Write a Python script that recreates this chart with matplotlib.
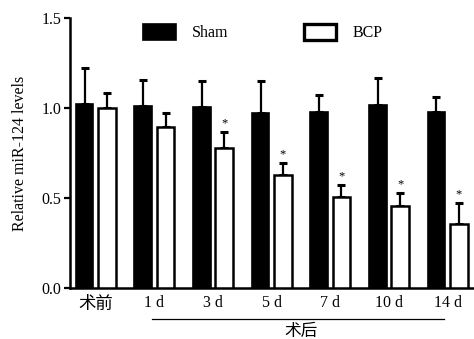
import matplotlib
matplotlib.use("Agg")
import matplotlib.pyplot as plt
import numpy as np
from matplotlib.patches import Patch

categories = ["术前", "1 d", "3 d", "5 d", "7 d", "10 d", "14 d"]
sham_vals = [1.022, 1.011, 1.006, 0.972, 0.978, 1.017, 0.978]
sham_err = [0.200, 0.145, 0.144, 0.178, 0.094, 0.150, 0.083]
bcp_vals = [1.000, 0.894, 0.778, 0.628, 0.506, 0.456, 0.356]
bcp_err = [0.083, 0.078, 0.089, 0.066, 0.066, 0.072, 0.116]
bcp_sig = [False, False, True, True, True, True, True]
yticks = [0.0, 0.5, 1.0, 1.5]
ytick_labels = ["0.0", "0.5", "1.0", "1.5"]

serif = ["Liberation Serif", "DejaVu Serif"]
cjk = ["Noto Sans CJK SC", "Liberation Serif"]

fig = plt.figure(figsize=(4.74, 3.39), dpi=100)
ax = fig.add_axes([70/474, 51/339, 404/474, 270/339])

x = np.arange(len(categories))
w = 0.30
off = 0.19
ax.bar(x - off, sham_vals, w, color="black", edgecolor="black", linewidth=1.2, zorder=3)
ax.bar(x + off, bcp_vals, w, color="white", edgecolor="black", linewidth=1.8, zorder=3)
ax.errorbar(x - off, sham_vals, yerr=[np.zeros(len(x)), sham_err], fmt="none",
            ecolor="black", elinewidth=1.6, capsize=3, capthick=2.2, zorder=2)
ax.errorbar(x + off, bcp_vals, yerr=[np.zeros(len(x)), bcp_err], fmt="none",
            ecolor="black", elinewidth=1.6, capsize=3, capthick=2.2, zorder=2)
for xi, v, e, s in zip(x, bcp_vals, bcp_err, bcp_sig):
    if s:
        ax.text(xi + off, v + e + 0.015, "*", ha="center", va="bottom",
                fontsize=9, family=serif)

ax.set_xlim(-0.44, 6.45)
ax.set_ylim(0, 1.5)
ax.set_yticks(yticks)
ax.set_yticklabels(ytick_labels, family=serif, fontsize=11.5)
ax.set_xticks(x)
ax.set_xticklabels(categories)
for lab in ax.get_xticklabels():
    if any(ord(c) > 127 for c in lab.get_text()):
        lab.set_family(cjk)
        lab.set_fontsize(12.5)
    else:
        lab.set_family(serif)
        lab.set_fontsize(11.5)
ax.tick_params(axis="x", length=0, pad=5)
ax.tick_params(axis="y", length=4, width=1.6, direction="out", pad=2)
for sp in ["top", "right"]:
    ax.spines[sp].set_visible(False)
for sp in ["left", "bottom"]:
    ax.spines[sp].set_linewidth(1.8)

ax.set_ylabel("Relative miR-124 levels", family=serif, fontsize=11.5, labelpad=10)

trans = ax.get_xaxis_transform()
ax.plot([0.95, 5.94], [-0.115, -0.115], color="black", lw=0.9,
        transform=trans, clip_on=False)
ax.text(3.5, -0.16, "术后", transform=trans, ha="center", va="center",
        family=cjk, fontsize=12)

handles = [Patch(facecolor="black", edgecolor="black", linewidth=1.2),
           Patch(facecolor="white", edgecolor="black", linewidth=2.4)]
leg = ax.legend(handles, ["Sham", "BCP"], ncol=2, frameon=False,
                loc="upper left", bbox_to_anchor=(0.181, 0.977),
                borderaxespad=0, borderpad=0,
                handlelength=2.06, handleheight=1.1, columnspacing=4.7,
                handletextpad=1.0, prop={"family": serif, "size": 11.5})

fig.savefig("out.png", dpi=100)
